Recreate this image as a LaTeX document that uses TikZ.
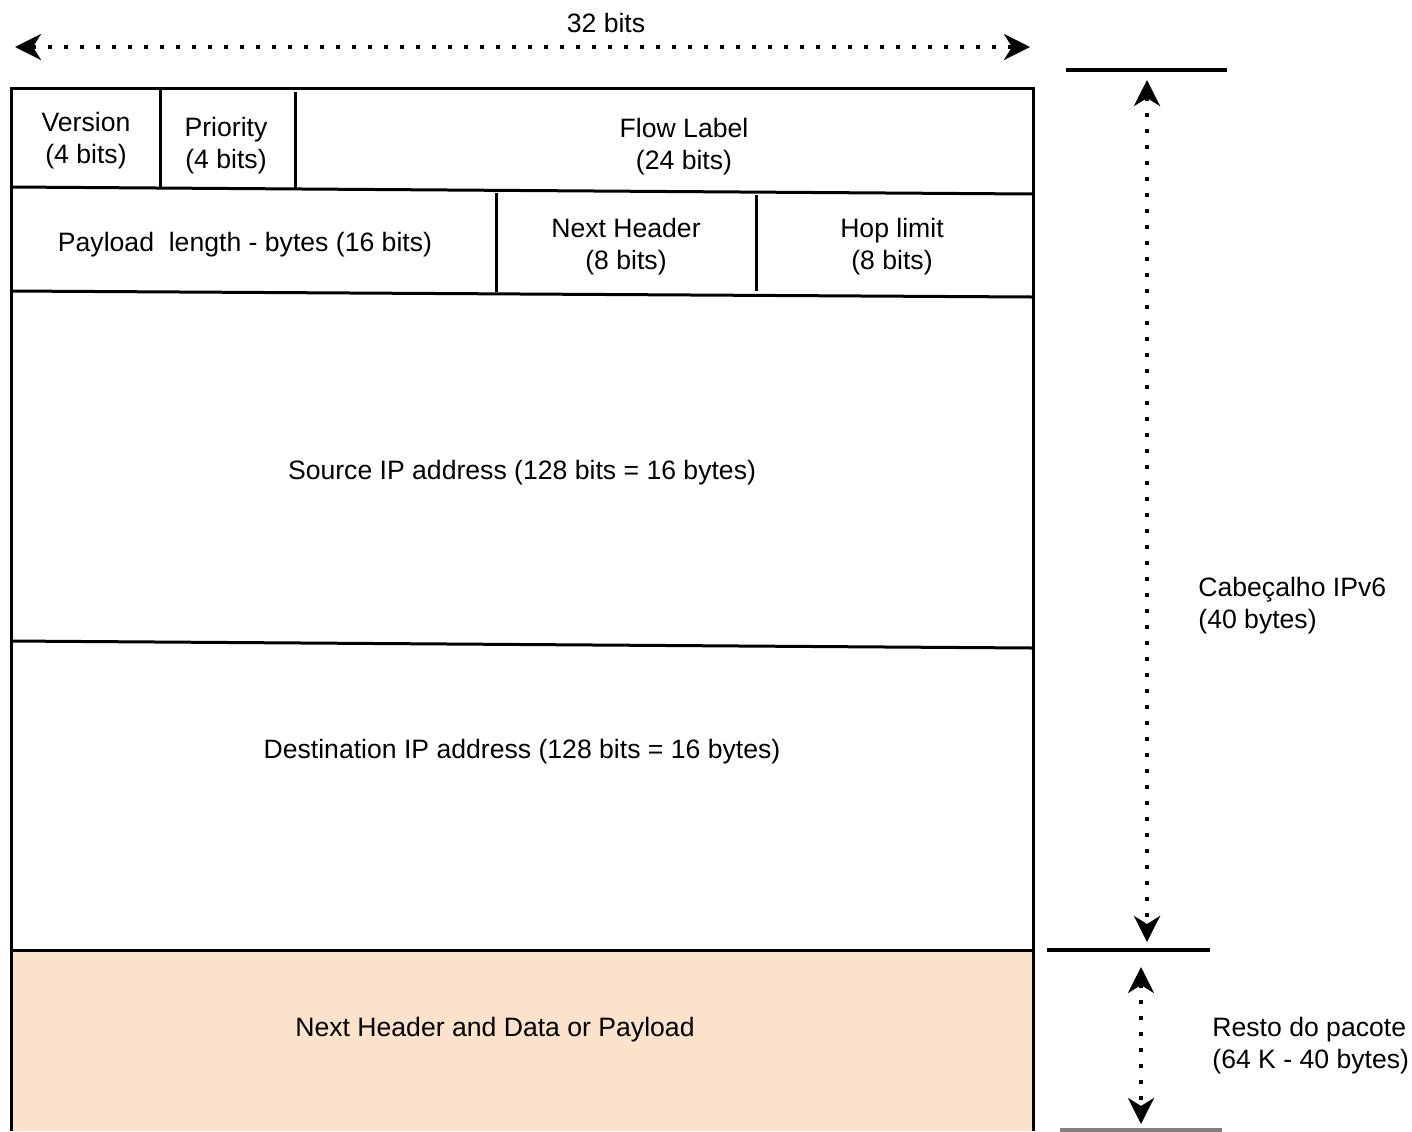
\documentclass[tikz,border=0pt]{standalone}
\usepackage{fontspec}
\setmainfont{Liberation Sans}
\usetikzlibrary{arrows.meta}
\definecolor{peach}{RGB}{251,227,203}
\tikzset{
  label/.style={font=\fontsize{13.3}{16}\selectfont, align=center, inner sep=0pt},
  sidelabel/.style={font=\fontsize{13.3}{16}\selectfont, align=left, inner sep=0pt, anchor=west},
  rule/.style={line width=1.5pt},
  marker/.style={line width=2pt},
  span/.style={line width=2pt, dash pattern=on 2pt off 6pt,
    {Stealth[length=13pt,width=13pt,inset=4pt]}-{Stealth[length=13pt,width=13pt,inset=4pt]}},
}
\begin{document}
\begin{tikzpicture}[x=0.5pt,y=-0.5pt]
\useasboundingbox (0,0) rectangle (1412,1131);

% payload area
\fill[peach] (11,950) rectangle (1033,1131);

% outer frame of the header
\draw[rule] (11,1131) -- (11,88) -- (1033,88) -- (1033,1131);

% row separators (slightly skewed as in the drawing)
\draw[rule] (11,187) -- (1033,194);
\draw[rule] (11,291) -- (1033,297);
\draw[rule] (11,641) -- (1033,648);
\draw[rule] (11,950) -- (1033,950);

% field separators
\draw[rule] (160,88) -- (160,187);
\draw[rule] (295,92) -- (295,188);
\draw[rule] (496,193) -- (496,292);
\draw[rule] (756,195) -- (756,291);

% field texts
\node[label] (ver) at (86,141) {Version\\(4 bits)};
\node[label] (pri) at (226,146) {Priority\\(4 bits)};
\node[label] (flow) at (684,147) {Flow Label\\(24 bits)};
\node[label] (plen) at (245,245) {Payload\ \ length - bytes (16 bits)};
\node[label] (nh) at (626,247) {Next Header\\(8 bits)};
\node[label] (hop) at (892,247) {Hop limit\\(8 bits)};
\node[label] (src) at (522,473) {Source IP address (128 bits = 16 bytes)};
\node[label] (dst) at (522,752) {Destination IP address (128 bits = 16 bytes)};
\node[label] (data) at (495,1030) {Next Header and Data or Payload};

% width marker
\node[label] (width) at (606,23) {32 bits};
\coordinate (wl) at (15,47);
\coordinate (wr) at (1030,47);
\draw[span] (wl) -- (wr);

% header length marker
\draw[marker] (1066,70) -- (1227,70);
\draw[marker] (1047,950) -- (1210,950);
\draw[marker, gray] (1060,1130) -- (1222,1130);
\coordinate (ht) at (1147,80);
\coordinate (hb) at (1147,942);
\draw[span] (ht) -- (hb);
\node[sidelabel] (hdr) at (1198,606) {Cabeçalho IPv6\\(40 bytes)};

% rest-of-packet marker
\coordinate (rt) at (1141,967);
\coordinate (rb) at (1141,1124);
\draw[span] (rt) -- (rb);
\node[sidelabel] (rest) at (1212,1046) {Resto do pacote\\(64 K - 40 bytes)};
\end{tikzpicture}
\end{document}
